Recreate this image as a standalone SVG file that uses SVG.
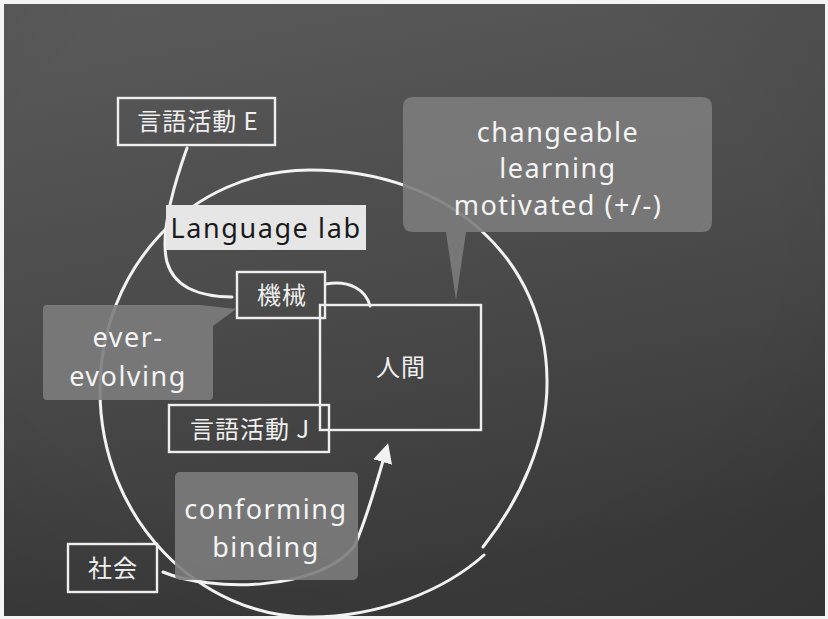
<svg xmlns="http://www.w3.org/2000/svg" width="828" height="619" viewBox="0 0 828 619">
  <style>
    .box { fill: none; stroke: #eeeeee; stroke-width: 2.4; }
    .chalk { fill: none; stroke: #f2f2f2; stroke-width: 3; stroke-linecap: round; }
    .cjk { font-family: "Noto Sans CJK JP", "Noto Sans", sans-serif; fill: #f0f0f0; font-size: 24px; text-anchor: middle; letter-spacing: 1px; }
    .hand { font-family: "Noto Sans", "DejaVu Sans", sans-serif; fill: #f4f4f4; font-size: 27px; text-anchor: middle; letter-spacing: 1.5px; }
    .bubble { fill: #7c7c7c; fill-opacity: 0.9; }
  </style>
  <defs>
    <linearGradient id="bg" x1="0" y1="0" x2="0.25" y2="1">
      <stop offset="0" stop-color="#5a5a5a"/>
      <stop offset="0.55" stop-color="#4a4a4a"/>
      <stop offset="1" stop-color="#3a3a3a"/>
    </linearGradient>
    <radialGradient id="vig" cx="0.45" cy="0.4" r="0.8">
      <stop offset="0.6" stop-color="#000" stop-opacity="0"/>
      <stop offset="1" stop-color="#000" stop-opacity="0.1"/>
    </radialGradient>
    <marker id="arrow" viewBox="0 0 10 10" refX="8" refY="5" markerWidth="6.5" markerHeight="6.5" orient="auto" markerUnits="strokeWidth">
      <path d="M0,0 L10,5 L0,10 z" fill="#f2f2f2"/>
    </marker>
  </defs>

  <rect x="0" y="0" width="828" height="619" fill="#f4f4f4"/>
  <rect x="4" y="4" width="821" height="612" fill="url(#bg)"/>
  <rect x="4" y="4" width="821" height="612" fill="url(#vig)"/>

  <!-- big circle -->
  <g id="circle">
    <path class="chalk" d="M483,547 C520,500 548,440 547,380 C546,260 450,170 310,170 C190,170 100,270 100,390 C100,520 200,617 310,617 C380,617 445,590 484,555"/>
  </g>

  <!-- connectors -->
  <g id="connectors">
    <path class="chalk" d="M187,148 C172,190 160,235 167,262 C175,290 205,297 232,297"/>
    <path class="chalk" d="M326,284 C350,280 366,290 370,306"/>
    <path class="chalk" d="M163,572 C210,592 320,592 355,545 C368,515 378,478 387,447" marker-end="url(#arrow)"/>
  </g>

  <g id="node-gengo-e">
    <rect class="box" x="118" y="98" width="157" height="47"/>
    <text class="cjk" x="198" y="130">言語活動 E</text>
  </g>

  <g id="node-language-lab">
    <rect x="166" y="205" width="200" height="45" fill="#e6e6e6"/>
    <text x="266" y="238" font-family="Noto Sans, DejaVu Sans, sans-serif" font-size="27" letter-spacing="1.6" fill="#1a1a1a" text-anchor="middle">Language lab</text>
  </g>

  <g id="node-kikai">
    <rect class="box" x="237" y="272" width="88" height="46"/>
    <text class="cjk" x="282" y="304">機械</text>
  </g>

  <g id="node-ningen">
    <rect class="box" x="320" y="305" width="161" height="125"/>
    <text class="cjk" x="401" y="376">人間</text>
  </g>

  <g id="node-gengo-j">
    <rect class="box" x="169" y="405" width="160" height="47"/>
    <text class="cjk" x="250" y="438">言語活動 J</text>
  </g>

  <g id="node-shakai">
    <rect class="box" x="68" y="544" width="89" height="48"/>
    <text class="cjk" x="113" y="577">社会</text>
  </g>

  <g id="bubble-changeable">
    <path class="bubble" d="M413,97 H702 Q712,97 712,107 V222 Q712,232 702,232 H466 L456,300 L446,232 H413 Q403,232 403,222 V107 Q403,97 413,97 Z"/>
    <text class="hand" x="558" y="142">changeable</text>
    <text class="hand" x="558" y="178">learning</text>
    <text class="hand" x="558" y="215" font-size="17" letter-spacing="0.6">motivated (+/-)</text>
  </g>

  <g id="bubble-ever-evolving">
    <path class="bubble" d="M47,305 H200 L236,309 L213,326 V396 Q213,400 209,400 H47 Q43,400 43,396 V309 Q43,305 47,305 Z"/>
    <text class="hand" x="128" y="347">ever-</text>
    <text class="hand" x="128" y="386">evolving</text>
  </g>

  <g id="bubble-conforming">
    <rect class="bubble" x="175" y="472" width="183" height="108" rx="5"/>
    <text class="hand" x="266" y="519">conforming</text>
    <text class="hand" x="266" y="557">binding</text>
  </g>
</svg>
